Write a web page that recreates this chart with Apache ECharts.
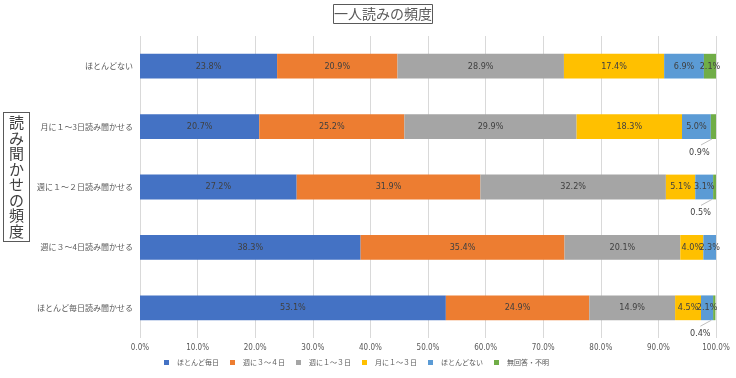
<!DOCTYPE html>
<html><head><meta charset="utf-8">
<script src="https://cdn.jsdelivr.net/npm/echarts@6/dist/echarts.min.js"></script>
<style>html,body{margin:0;padding:0;background:#fff}#c{width:736px;height:378px}</style>
</head><body><div id="c"></div>
<script>
const categories = ['ほとんどない','月に１～3日読み聞かせる','週に１～２日読み聞かせる','週に３～4日読み聞かせる','ほとんど毎日読み聞かせる'];
const seriesNames = ['ほとんど毎日','週に３～４日','週に１～３日','月に１～３日','ほとんどない','無回答・不明'];
const sAlmostDaily = [23.8, 20.7, 27.2, 38.3, 53.1];
const sWeek34 = [20.9, 25.2, 31.9, 35.4, 24.9];
const sWeek13 = [28.9, 29.9, 32.2, 20.1, 14.9];
const sMonth13 = [17.4, 18.3, 5.1, 4.0, 4.5];
const sRarely = [6.9, 5.0, 3.1, 2.3, 2.1];
const sNoAnswer = [2.1, 0.9, 0.5, 0, 0.4];
const xTicks = [0,10,20,30,40,50,60,70,80,90,100];

const colors = ['#4472C4','#ED7D31','#A5A5A5','#FFC000','#5B9BD5','#70AD47'];
const allData = [sAlmostDaily, sWeek34, sWeek13, sMonth13, sRarely, sNoAnswer];
const labelFont = '"Liberation Sans Narrow","DejaVu Sans Condensed","Noto Sans CJK JP",sans-serif';
const cjk = '"Noto Sans CJK JP",sans-serif';

// rows whose last segment label is placed outside with a leader line
const leaderRows = sNoAnswer.map((v, i) => (v > 0 && v < 1) ? i : -1).filter(i => i >= 0);
const leaderData = leaderRows.map(i => [allData.reduce((s, d) => s + d[i], 0), i]);

const series = allData.map((d, i) => {
  const s = {
    name: seriesNames[i], type: 'bar', stack: 'total', barWidth: '41%',
    itemStyle: {color: colors[i]},
    label: {
      show: true, position: 'inside', color: '#404040', fontSize: 9, fontFamily: labelFont,
      formatter: p => p.value > 0 ? p.value.toFixed(1) + '%' : ''
    },
    data: d
  };
  if (i === 5) {
    s.labelLayout = function (p) {
      if (leaderRows.indexOf(p.dataIndex) < 0) return {};
      return {dx: -14, dy: 26};
    };
  }
  return s;
});

series.push({
  type: 'custom', name: 'leader', silent: true, z: 5,
  renderItem: function (params, api) {
    const pt = api.coord([Math.min(api.value(0), 100), api.value(1)]);
    const band = api.size([0, 1])[1];
    const yb = pt[1] + band * 0.205;
    return {
      type: 'line',
      shape: {x1: pt[0] - 4, y1: yb, x2: pt[0] - 15, y2: yb + 6},
      style: {stroke: '#bfbfbf', lineWidth: 1}
    };
  },
  data: leaderData
});

const chart = echarts.init(document.getElementById('c'), null, {renderer: 'canvas'});
chart.setOption({
  animation: false,
  backgroundColor: '#fff',
  title: {
    text: '一人読みの頻度', left: 333, top: 4,
    borderColor: '#595959', borderWidth: 1, padding: [3, 1],
    textStyle: {fontSize: 14, fontWeight: 'normal', color: '#595959', fontFamily: cjk}
  },
  graphic: [{
    type: 'text', left: 3, top: 112,
    style: {
      text: '読\nみ\n聞\nか\nせ\nの\n頻\n度', fontSize: 15, lineHeight: 15.5,
      fill: '#404040', fontFamily: cjk,
      borderColor: '#595959', borderWidth: 1, padding: [2, 5], backgroundColor: '#fff'
    }
  }],
  legend: {
    bottom: 7, left: 159, itemWidth: 5, itemHeight: 5, itemGap: 11, icon: 'rect',
    data: seriesNames,
    textStyle: {fontSize: 7, color: '#595959', fontFamily: cjk, padding: [0, 0, 0, 3]}
  },
  grid: {left: 140, right: 20, top: 36, bottom: 40},
  xAxis: {
    type: 'value', min: 0, max: 100, interval: 10,
    axisLine: {show: false}, axisTick: {show: false},
    splitLine: {lineStyle: {color: '#d9d9d9'}},
    axisLabel: {fontSize: 8, color: '#595959', fontFamily: labelFont, margin: 6,
      formatter: v => v.toFixed(1) + '%'}
  },
  yAxis: {
    type: 'category', data: categories, inverse: true,
    axisLine: {show: false}, axisTick: {show: false},
    axisLabel: {fontSize: 8, color: '#595959', fontFamily: cjk, margin: 7}
  },
  series: series
});
</script></body></html>
